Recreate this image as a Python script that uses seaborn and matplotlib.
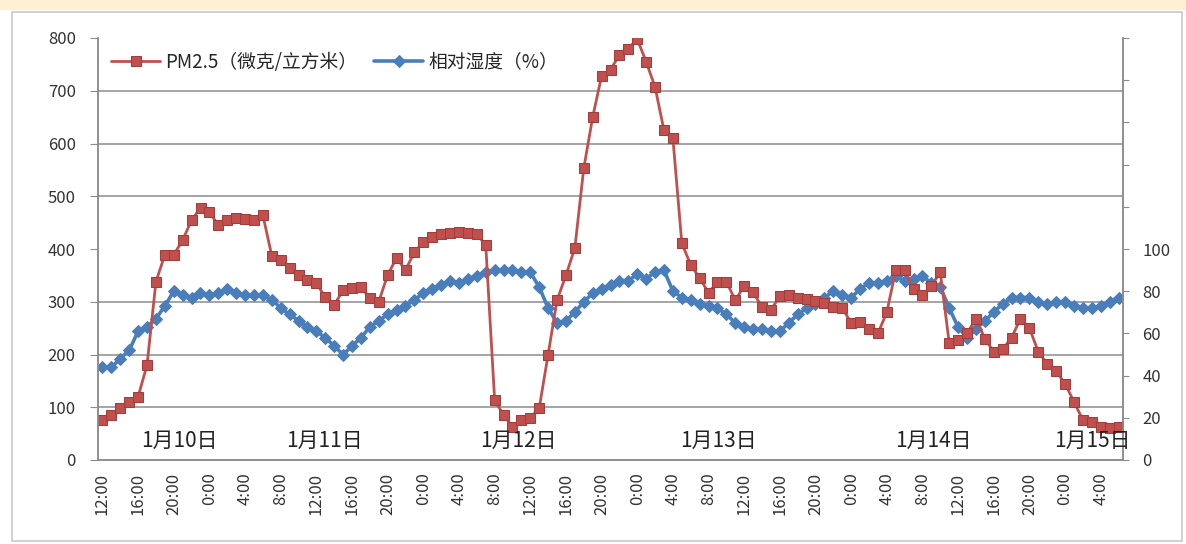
import matplotlib
matplotlib.use("Agg")
import matplotlib.pyplot as plt
import seaborn as sns
import pandas as pd
from matplotlib.patches import Rectangle
from matplotlib.ticker import MultipleLocator, FixedLocator

# hourly readings, starting at 12:00
pm25 = [76, 85, 98, 110, 120, 180, 338, 389, 389, 417,
        455, 478, 470, 445, 455, 458, 456, 455, 464, 387,
        379, 364, 351, 341, 335, 309, 294, 322, 326, 328,
        307, 300, 351, 383, 360, 394, 413, 423, 428, 431,
        432, 431, 428, 408, 114, 85, 63, 76, 80, 98,
        200, 303, 350, 402, 553, 650, 728, 740, 768, 780,
        798, 755, 707, 625, 610, 411, 370, 345, 317, 338,
        338, 303, 330, 318, 290, 285, 310, 312, 307, 305,
        302, 297, 290, 288, 260, 262, 248, 240, 280, 360,
        360, 325, 312, 330, 356, 222, 228, 240, 268, 230,
        205, 210, 232, 268, 250, 205, 182, 168, 145, 110,
        76, 72, 62, 60, 63]

humidity = [44, 44, 48, 52, 61, 63, 67, 73, 80, 78,
            77, 79, 78, 79, 81, 79, 78, 78, 78, 76,
            72, 69, 66, 63, 61, 58, 54, 50, 54, 58,
            63, 66, 69, 71, 73, 76, 79, 81, 83, 85,
            84, 86, 87, 89, 90, 90, 90, 89, 89, 82,
            72, 65, 66, 70, 75, 79, 81, 83, 85, 85,
            88, 86, 89, 90, 80, 77, 76, 74, 73, 72,
            69, 65, 63, 62, 62, 61, 61, 65, 69, 72,
            74, 77, 80, 78, 77, 81, 84, 84, 85, 87,
            85, 86, 87, 84, 82, 72, 63, 58, 62, 66,
            70, 74, 77, 77, 77, 75, 74, 75, 75, 73,
            72, 72, 73, 75, 77]

tick_cycle = ["12:00", "16:00", "20:00", "0:00", "4:00", "8:00"]
day_labels = ["1月10日", "1月11日", "1月12日", "1月13日", "1月14日", "1月15日"]
day_pos = [8.6, 24.9, 46.7, 69.1, 93.2, 111.1]

RED = "#C0504D"
BLUE = "#4A7EBB"
GRID = "#8c8c8c"
TXT = "#333333"

sns.set_style("white")
plt.rcParams["font.family"] = ["Noto Sans CJK SC", "DejaVu Sans"]

df = pd.DataFrame({"hour": range(len(pm25)), "pm25": pm25, "rh": humidity})

fig = plt.figure(figsize=(11.86, 5.44), dpi=100)
W, H = 1186, 544

# pale strip at the top and the chart area border
fig.add_artist(Rectangle((0, 1 - 10 / H), 1, 10 / H, transform=fig.transFigure,
                         facecolor="#fcefd2", edgecolor="none"))
fig.add_artist(Rectangle((12 / W, 3 / H), (1182 - 12) / W, (532 - 3) / H,
                         transform=fig.transFigure, facecolor="none",
                         edgecolor="#c8c8c8", linewidth=1.2))

ax = fig.add_axes([98 / W, 1 - 460 / H, (1123 - 98) / W, (460 - 38) / H])
ax2 = ax.twinx()

# humidity on the secondary axis (drawn below)
sns.lineplot(data=df, x="hour", y="rh", ax=ax2, color=BLUE, marker="D",
             markersize=6.5, markeredgecolor=BLUE, linewidth=2.6, label="相对湿度（%）",
             legend=False)
# PM2.5 on the primary axis (drawn on top)
sns.lineplot(data=df, x="hour", y="pm25", ax=ax, color=RED, marker="s",
             markersize=7.5, markeredgecolor="#a33c3a", linewidth=2.0,
             label="PM2.5（微克/立方米）", legend=False)

ax.set_zorder(ax2.get_zorder() + 1)
ax.patch.set_visible(False)

n = len(pm25)
ax.set_xlim(-0.5, n - 0.5)
ax.set_ylim(0, 800)
ax2.set_ylim(0, 200)

# left axis
ax.yaxis.set_major_locator(MultipleLocator(100))
ax.tick_params(axis="y", direction="out", length=6, color=GRID, labelsize=12,
               labelcolor=TXT, pad=10)

# right axis: ticks every 20, labels only up to 100; gridlines from minor ticks
ax2.yaxis.set_major_locator(MultipleLocator(20))
ax2.set_yticklabels([str(int(v)) if v <= 100 else "" for v in ax2.get_yticks()])
ax2.yaxis.set_minor_locator(MultipleLocator(25))
ax2.grid(which="minor", axis="y", color=GRID, linewidth=1.1)
ax2.tick_params(axis="y", which="major", direction="out", length=4, color=GRID,
                labelsize=12, labelcolor=TXT, pad=10)
ax2.tick_params(axis="y", which="minor", length=0)
ax.set_ylabel("")
ax2.set_ylabel("")

# x axis: labels every 4 hours, tick marks at every hour boundary
xt = list(range(0, n, 4))
ax.set_xticks(xt)
ax.set_xticklabels([tick_cycle[k % len(tick_cycle)] for k in range(len(xt))],
                   rotation=90, fontsize=12, color=TXT)
ax.xaxis.set_minor_locator(FixedLocator([k - 0.5 for k in range(n + 1)]))
ax.tick_params(axis="x", which="major", length=0, pad=9)
ax.tick_params(axis="x", which="minor", direction="out", length=4, color=GRID)
ax.set_xlabel("")

for a in (ax, ax2):
    a.spines["top"].set_visible(False)
    for s in ("left", "right", "bottom"):
        a.spines[s].set_color(GRID)
        a.spines[s].set_linewidth(1.1)

for lab, xp in zip(day_labels, day_pos):
    ax.text(xp, 36, lab, ha="center", va="center", fontsize=15, color="#222222")

h1, l1 = ax.get_legend_handles_labels()
h2, l2 = ax2.get_legend_handles_labels()
ax.legend(h1 + h2, l1 + l2, loc="center left", bbox_to_anchor=(0.0, 0.943),
          ncol=2, frameon=False, fontsize=13.5, handlelength=2.6,
          columnspacing=0.9, handletextpad=0.3, borderaxespad=0.3)

fig.savefig("out.png", dpi=100, facecolor="white")
